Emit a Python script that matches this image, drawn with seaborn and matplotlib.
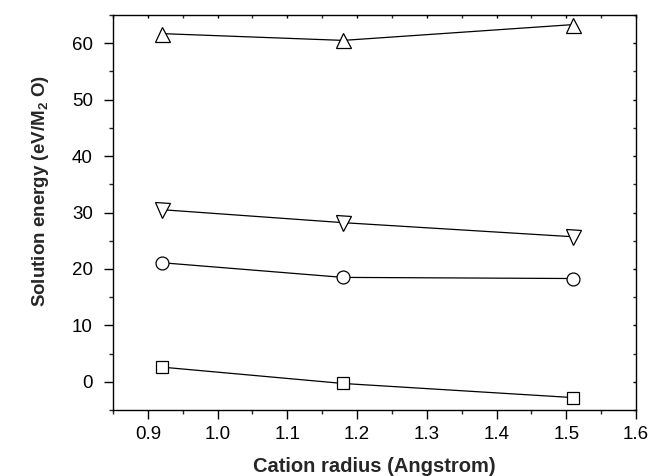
import matplotlib
matplotlib.use("Agg")
import matplotlib.pyplot as plt
import matplotlib.lines as mlines
import seaborn as sns
import pandas as pd
from matplotlib.ticker import MultipleLocator, FormatStrFormatter

sns.set_style("ticks")
plt.rcParams['font.family'] = ['Liberation Sans', 'DejaVu Sans']
plt.rcParams['mathtext.fontset'] = 'custom'
plt.rcParams['mathtext.rm'] = 'Liberation Sans'
plt.rcParams['mathtext.bf'] = 'Liberation Sans:bold'

radius = [0.92, 1.18, 1.51]
series_up = [61.7, 60.5, 63.3]
series_down = [30.5, 28.2, 25.7]
series_circle = [21.1, 18.5, 18.3]
series_square = [2.6, -0.3, -2.8]

series = [(series_up, "^", 10.8), (series_down, "v", 10.8),
          (series_circle, "o", 9.3), (series_square, "s", 8.4)]

fig = plt.figure(figsize=(6.5, 4.76), dpi=100)
ax = fig.add_axes([113/650, 1 - 410/476, 523/650, 395/476])

for vals, m, ms in series:
    df = pd.DataFrame({"x": radius, "y": vals})
    sns.lineplot(data=df, x="x", y="y", ax=ax, color="black", lw=0.9,
                 marker=m, markersize=ms, markerfacecolor="white",
                 markeredgecolor="black", markeredgewidth=0.9, sort=False)

ax.set_xlim(0.85, 1.6)
ax.set_ylim(-5, 65)
ax.xaxis.set_major_locator(MultipleLocator(0.1))
ax.xaxis.set_minor_locator(MultipleLocator(0.05))
ax.yaxis.set_major_locator(MultipleLocator(10))
ax.yaxis.set_minor_locator(MultipleLocator(5))
ax.xaxis.set_major_formatter(FormatStrFormatter('%.1f'))

ax.tick_params(axis="both", which="major", direction="out", length=6.5, width=1,
               labelsize=13.5, colors="black")
ax.tick_params(axis="both", which="minor", direction="out", length=3, width=1)
ax.tick_params(axis="x", which="major", pad=5)
ax.tick_params(axis="y", which="major", pad=8)
ax.tick_params(top=True, right=True, which="both")
ax.tick_params(axis="x", which="both", labeltop=False)
ax.tick_params(axis="y", which="both", labelright=False)

fig.canvas.draw()
for t in ax.xaxis.get_major_ticks() + ax.xaxis.get_minor_ticks():
    t.tick2line.set_marker(mlines.TICKDOWN)
    t.tick2line.set_markersize(2.5)
for t in ax.yaxis.get_major_ticks() + ax.yaxis.get_minor_ticks():
    t.tick2line.set_marker(mlines.TICKLEFT)
    t.tick2line.set_markersize(2.5)

for s in ax.spines.values():
    s.set_linewidth(1.0)
    s.set_color("black")

ax.set_xlabel("Cation radius (Angstrom)", fontsize=14.5, fontweight="bold")
ax.xaxis.label.set_va("center")
ax.xaxis.set_label_coords(0.5, -(467 - 410) / 395)
ax.set_ylabel(r"Solution energy (eV/M$_{\mathbf{2}}$ O)", fontsize=13.5, fontweight="bold")
ax.yaxis.label.set_va("center")
ax.yaxis.set_label_coords((41 - 113) / 523, (410 - 191) / 395)

fig.savefig("out.png", dpi=100)
